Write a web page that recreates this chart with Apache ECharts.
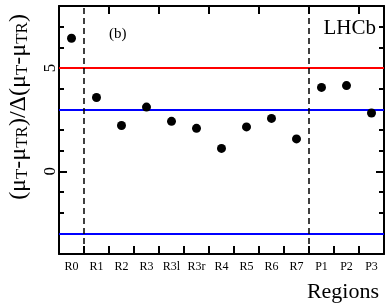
<!DOCTYPE html>
<html>
<head>
<meta charset="utf-8">
<script src="https://cdn.jsdelivr.net/npm/echarts@6/dist/echarts.min.js"></script>
<style>
html,body{margin:0;padding:0;background:#fff;}
#c{width:392px;height:304px;}
</style>
</head>
<body>
<div id="c"></div>
<script>
const categories = ['R0','R1','R2','R3','R3l','R3r','R4','R5','R6','R7','P1','P2','P3'];
const values = [6.44,3.57,2.22,3.11,2.42,2.08,1.11,2.15,2.56,1.57,4.06,4.15,2.82];
const redLevels = [5];
const blueLevels = [3,-3];
const dividers = [0.5, 9.5];
const yLabelValues = [0,5];

const FONT = 'Liberation Serif';
const chart = echarts.init(document.getElementById('c'), null, {renderer:'canvas'});

const lineStyleAxis = {color:'#000', width:2};
const grid = {left:59, right:8, top:6, bottom:50, containLabel:false};

function yAxisBase(pos, tickLen, custom, showLabel, showLine){
  const a = {
    type:'value', position:pos, min:-4, max:8, interval:1,
    axisLine:{show:showLine, onZero:false, lineStyle:lineStyleAxis},
    axisTick:{show:true, inside:true, length:tickLen, lineStyle:{color:'#000', width:2}},
    axisLabel:{show:showLabel, rotate:90, margin:0, fontFamily:FONT, fontSize:17, color:'#000'},
    splitLine:{show:false}
  };
  if (custom){ a.axisTick.customValues = yLabelValues; }
  if (showLabel){ a.axisLabel.customValues = yLabelValues; }
  return a;
}

const option = {
  animation:false,
  backgroundColor:'#fff',
  grid: grid,
  xAxis:[
    {type:'category', data:categories, position:'bottom', boundaryGap:true,
     axisLine:{show:true, onZero:false, lineStyle:lineStyleAxis},
     axisTick:{show:true, inside:true, length:8, alignWithLabel:false, lineStyle:{color:'#000', width:2}},
     axisLabel:{show:true, margin:7, fontFamily:FONT, fontSize:12, color:'#000', interval:0},
     splitLine:{show:false}},
    {type:'category', data:categories, position:'top', boundaryGap:true,
     axisLine:{show:true, onZero:false, lineStyle:lineStyleAxis},
     axisTick:{show:true, inside:true, length:8, alignWithLabel:false, lineStyle:{color:'#000', width:2}},
     axisLabel:{show:false}, splitLine:{show:false}},
    {type:'value', min:-0.5, max:12.5, show:false}
  ],
  yAxis:[
    yAxisBase('left', 5, false, false, true),
    yAxisBase('left', 8, true, true, false),
    yAxisBase('right', 5, false, false, true),
    yAxisBase('right', 8, true, false, false)
  ],
  graphic:[
    {type:'text', x:19, y:107, rotation:Math.PI/2,
     style:{
       text:'(μ{s|T}-μ{s|TR})/Δ(μ{s|T}-μ{s|TR})',
       fontFamily:FONT, fontSize:24, fill:'#000', align:'center', verticalAlign:'middle',
       rich:{ s:{fontFamily:FONT, fontSize:17, fill:'#000', verticalAlign:'bottom', lineHeight:17, padding:[12,0,0,0]} }
     }},
    {type:'text', x:109, y:34, style:{text:'(b)', fontFamily:FONT, fontSize:15, fill:'#000', verticalAlign:'middle'}},
    {type:'text', x:376, y:28, style:{text:'LHCb', fontFamily:FONT, fontSize:21, fill:'#000', align:'right', verticalAlign:'middle'}},
    {type:'text', x:379, y:292, style:{text:'Regions', fontFamily:FONT, fontSize:22, fill:'#000', align:'right', verticalAlign:'middle'}}
  ],
  series:[
    {type:'scatter', xAxisIndex:0, yAxisIndex:0, data:values, symbol:'circle', symbolSize:9,
     itemStyle:{color:'#000', opacity:1}, z:5,
     markLine:{silent:true, symbol:'none', label:{show:false}, animation:false,
       data: redLevels.map(v=>({yAxis:v, lineStyle:{color:'#ff0000', width:2, type:'solid'}}))
         .concat(blueLevels.map(v=>({yAxis:v, lineStyle:{color:'#0000ff', width:2, type:'solid'}})))}},
    {type:'line', xAxisIndex:2, yAxisIndex:0, data:[], showSymbol:false,
     markLine:{silent:true, symbol:'none', label:{show:false}, animation:false,
       lineStyle:{color:'#000', width:1.5, type:[6,4]},
       data: dividers.map(v=>({xAxis:v}))}}
  ]
};
chart.setOption(option);
</script>
</body>
</html>
